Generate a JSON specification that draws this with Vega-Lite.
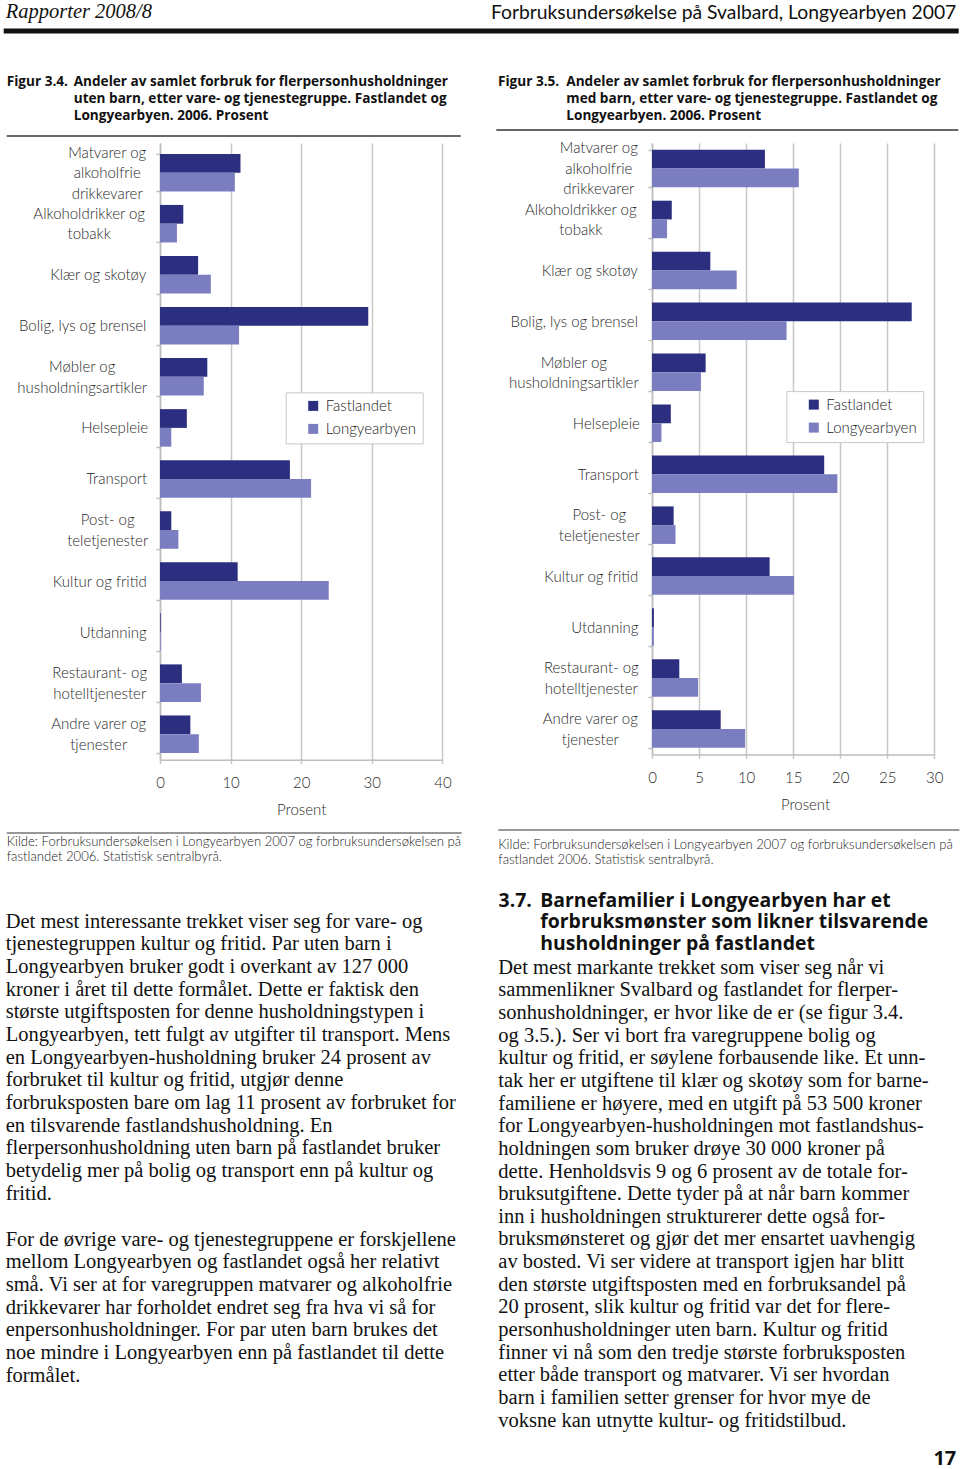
{
  "$schema": "https://vega.github.io/schema/vega-lite/v6.json",
  "background": "white",
  "padding": {"left": 3, "top": 0, "right": 0, "bottom": 0},
  "config": {"view": {"stroke": null}},
  "columns": 2,
  "bounds": "flush",
  "spacing": {"row": 0, "column": 209},
  "resolve": {"scale": {"color": "independent"}, "legend": {"color": "independent"}},
  "datasets": {
    "uten_barn": [
      {"kategori": "Matvarer og alkoholfrie drikkevarer", "serie": "Fastlandet", "andel": 11.4},
      {"kategori": "Matvarer og alkoholfrie drikkevarer", "serie": "Longyearbyen", "andel": 10.6},
      {"kategori": "Alkoholdrikker og tobakk", "serie": "Fastlandet", "andel": 3.3},
      {"kategori": "Alkoholdrikker og tobakk", "serie": "Longyearbyen", "andel": 2.4},
      {"kategori": "Klær og skotøy", "serie": "Fastlandet", "andel": 5.4},
      {"kategori": "Klær og skotøy", "serie": "Longyearbyen", "andel": 7.2},
      {"kategori": "Bolig, lys og brensel", "serie": "Fastlandet", "andel": 29.5},
      {"kategori": "Bolig, lys og brensel", "serie": "Longyearbyen", "andel": 11.2},
      {"kategori": "Møbler og husholdningsartikler", "serie": "Fastlandet", "andel": 6.7},
      {"kategori": "Møbler og husholdningsartikler", "serie": "Longyearbyen", "andel": 6.2},
      {"kategori": "Helsepleie", "serie": "Fastlandet", "andel": 3.8},
      {"kategori": "Helsepleie", "serie": "Longyearbyen", "andel": 1.6},
      {"kategori": "Transport", "serie": "Fastlandet", "andel": 18.4},
      {"kategori": "Transport", "serie": "Longyearbyen", "andel": 21.4},
      {"kategori": "Post- og teletjenester", "serie": "Fastlandet", "andel": 1.6},
      {"kategori": "Post- og teletjenester", "serie": "Longyearbyen", "andel": 2.6},
      {"kategori": "Kultur og fritid", "serie": "Fastlandet", "andel": 11.0},
      {"kategori": "Kultur og fritid", "serie": "Longyearbyen", "andel": 23.9},
      {"kategori": "Utdanning", "serie": "Fastlandet", "andel": 0.1},
      {"kategori": "Utdanning", "serie": "Longyearbyen", "andel": 0.1},
      {"kategori": "Restaurant- og hotelltjenester", "serie": "Fastlandet", "andel": 3.1},
      {"kategori": "Restaurant- og hotelltjenester", "serie": "Longyearbyen", "andel": 5.8},
      {"kategori": "Andre varer og tjenester", "serie": "Fastlandet", "andel": 4.3},
      {"kategori": "Andre varer og tjenester", "serie": "Longyearbyen", "andel": 5.5}
    ],
    "med_barn": [
      {"kategori": "Matvarer og alkoholfrie drikkevarer", "serie": "Fastlandet", "andel": 12.0},
      {"kategori": "Matvarer og alkoholfrie drikkevarer", "serie": "Longyearbyen", "andel": 15.6},
      {"kategori": "Alkoholdrikker og tobakk", "serie": "Fastlandet", "andel": 2.1},
      {"kategori": "Alkoholdrikker og tobakk", "serie": "Longyearbyen", "andel": 1.6},
      {"kategori": "Klær og skotøy", "serie": "Fastlandet", "andel": 6.2},
      {"kategori": "Klær og skotøy", "serie": "Longyearbyen", "andel": 9.0},
      {"kategori": "Bolig, lys og brensel", "serie": "Fastlandet", "andel": 27.6},
      {"kategori": "Bolig, lys og brensel", "serie": "Longyearbyen", "andel": 14.3},
      {"kategori": "Møbler og husholdningsartikler", "serie": "Fastlandet", "andel": 5.7},
      {"kategori": "Møbler og husholdningsartikler", "serie": "Longyearbyen", "andel": 5.2},
      {"kategori": "Helsepleie", "serie": "Fastlandet", "andel": 2.0},
      {"kategori": "Helsepleie", "serie": "Longyearbyen", "andel": 1.0},
      {"kategori": "Transport", "serie": "Fastlandet", "andel": 18.3},
      {"kategori": "Transport", "serie": "Longyearbyen", "andel": 19.7},
      {"kategori": "Post- og teletjenester", "serie": "Fastlandet", "andel": 2.3},
      {"kategori": "Post- og teletjenester", "serie": "Longyearbyen", "andel": 2.5},
      {"kategori": "Kultur og fritid", "serie": "Fastlandet", "andel": 12.5},
      {"kategori": "Kultur og fritid", "serie": "Longyearbyen", "andel": 15.1},
      {"kategori": "Utdanning", "serie": "Fastlandet", "andel": 0.2},
      {"kategori": "Utdanning", "serie": "Longyearbyen", "andel": 0.2},
      {"kategori": "Restaurant- og hotelltjenester", "serie": "Fastlandet", "andel": 2.9},
      {"kategori": "Restaurant- og hotelltjenester", "serie": "Longyearbyen", "andel": 4.9},
      {"kategori": "Andre varer og tjenester", "serie": "Fastlandet", "andel": 7.3},
      {"kategori": "Andre varer og tjenester", "serie": "Longyearbyen", "andel": 9.9}
    ]
  },
  "concat": [
    {
      "width": 282.4,
      "height": 142.6,
      "layer": [
        {
          "data": {"values": [{"tekst": "Rapporter 2008/8"}]},
          "mark": {"type": "text", "font": "Liberation Serif", "fontStyle": "italic", "fontSize": 20.5, "align": "left", "baseline": "alphabetic", "color": "#111"},
          "encoding": {"text": {"field": "tekst", "type": "nominal"}, "x": {"value": -154.3}, "y": {"value": 18}}
        },
        {
          "data": {"values": [{}]},
          "mark": {"type": "rect", "color": "#111"},
          "encoding": {"x": {"value": -156.3}, "x2": {"value": 798.7}, "y": {"value": 28.5}, "y2": {"value": 33.5}}
        },
        {
          "data": {"values": [{"tekst": "Figur 3.4."}]},
          "mark": {"type": "text", "font": "Open Sans", "fontWeight": "bold", "fontSize": 13.6, "align": "left", "baseline": "middle", "color": "#111"},
          "encoding": {"text": {"field": "tekst", "type": "nominal"}, "x": {"value": -153.3}, "y": {"value": 81.7}}
        },
        {
          "data": {"values": [{"tekst": ["Andeler av samlet forbruk for flerpersonhusholdninger", "uten barn, etter vare- og tjenestegruppe. Fastlandet og", "Longyearbyen. 2006. Prosent"]}]},
          "mark": {"type": "text", "font": "Open Sans", "fontWeight": "bold", "fontSize": 13.6, "align": "left", "baseline": "middle", "lineHeight": 17.2, "color": "#111"},
          "encoding": {"text": {"field": "tekst", "type": "nominal"}, "x": {"value": -86.3}, "y": {"value": 81.7}}
        },
        {
          "data": {"values": [{}]},
          "mark": {"type": "rule", "color": "#333", "strokeWidth": 1.3},
          "encoding": {"x": {"value": -153.3}, "x2": {"value": 300.7}, "y": {"value": 136}}
        }
      ]
    },
    {
      "width": 282.3,
      "height": 142.6,
      "layer": [
        {
          "data": {"values": [{"tekst": "Forbruksundersøkelse på Svalbard, Longyearbyen 2007"}]},
          "mark": {"type": "text", "font": "Lato", "fontSize": 19.3, "align": "right", "baseline": "alphabetic", "color": "#111"},
          "encoding": {"text": {"field": "tekst", "type": "nominal"}, "x": {"value": 304.3}, "y": {"value": 19}}
        },
        {
          "data": {"values": [{"tekst": "Figur 3.5."}]},
          "mark": {"type": "text", "font": "Open Sans", "fontWeight": "bold", "fontSize": 13.6, "align": "left", "baseline": "middle", "color": "#111"},
          "encoding": {"text": {"field": "tekst", "type": "nominal"}, "x": {"value": -154}, "y": {"value": 81.7}}
        },
        {
          "data": {"values": [{"tekst": ["Andeler av samlet forbruk for flerpersonhusholdninger", "med barn, etter vare- og tjenestegruppe. Fastlandet og", "Longyearbyen. 2006. Prosent"]}]},
          "mark": {"type": "text", "font": "Open Sans", "fontWeight": "bold", "fontSize": 13.6, "align": "left", "baseline": "middle", "lineHeight": 17.2, "color": "#111"},
          "encoding": {"text": {"field": "tekst", "type": "nominal"}, "x": {"value": -85.7}, "y": {"value": 81.7}}
        },
        {
          "data": {"values": [{}]},
          "mark": {"type": "rule", "color": "#333", "strokeWidth": 1.3},
          "encoding": {"x": {"value": -155.7}, "x2": {"value": 306.3}, "y": {"value": 130}}
        }
      ]
    },
    {
      "width": 282.4,
      "height": 616.7,
      "data": {"name": "uten_barn"},
      "mark": {"type": "bar"},
      "encoding": {
        "y": {
          "field": "kategori", "type": "nominal", "sort": null, "title": null,
          "scale": {"paddingInner": 0.265, "paddingOuter": 0.1725, "align": 0.618},
          "axis": {
            "domainColor": "#bdbdbd", "domainWidth": 1.5, "tickColor": "#bdbdbd", "tickWidth": 1.5, "tickSize": 4, "tickBand": "extent",
            "labelFont": "Lato", "labelFontSize": 15, "labelFontWeight": 300, "labelColor": "#2a2a2a",
            "labelLineHeight": 20.5, "labelAlign": "center", "labelBaseline": "middle", "labelOverlap": false, "labelLimit": 300,
            "labelExpr": "indexof(['Klær og skotøy','Bolig, lys og brensel','Kultur og fritid','Helsepleie','Transport','Utdanning'], datum.label) >= 0 ? datum.label : split(replace(replace(datum.label, ' og ', ' og|'), 'alkoholfrie ', 'alkoholfrie|'), '|')",
            "labelPadding": {"expr": "9.3 + [40,58,49,64.5,65,32.5,30.5,39.5,47.5,34,47.5,48.5][indexof(['Matvarer og alkoholfrie drikkevarer','Alkoholdrikker og tobakk','Klær og skotøy','Bolig, lys og brensel','Møbler og husholdningsartikler','Helsepleie','Transport','Post- og teletjenester','Kultur og fritid','Utdanning','Restaurant- og hotelltjenester','Andre varer og tjenester'], datum.value)]"},
            "labelOffset": {"expr": "[-20.5,-10.25,0,0,-10.25,0,0,-10.25,0,0,-10.25,-10.25][indexof(['Matvarer og alkoholfrie drikkevarer','Alkoholdrikker og tobakk','Klær og skotøy','Bolig, lys og brensel','Møbler og husholdningsartikler','Helsepleie','Transport','Post- og teletjenester','Kultur og fritid','Utdanning','Restaurant- og hotelltjenester','Andre varer og tjenester'], datum.value)]"}
          }
        },
        "yOffset": {"field": "serie", "type": "nominal", "sort": ["Fastlandet", "Longyearbyen"], "scale": {"paddingInner": 0, "paddingOuter": 0}},
        "x": {
          "field": "andel", "type": "quantitative",
          "scale": {"domain": [0, 40], "nice": false},
          "axis": {
            "values": [0, 10, 20, 30, 40], "title": "Prosent", "grid": true, "gridColor": "#c8c8c8", "gridWidth": 1.5,
            "domainColor": "#bdbdbd", "domainWidth": 1.5, "tickColor": "#c8c8c8", "tickWidth": 1.5, "tickSize": 4,
            "labelFont": "Lato", "labelFontSize": 15, "labelFontWeight": 300, "labelColor": "#2a2a2a", "labelPadding": 12, "labelFlush": false,
            "titleFont": "Lato", "titleFontSize": 15, "titleFontWeight": 300, "titleColor": "#2a2a2a", "titlePadding": 12
          }
        },
        "color": {
          "field": "serie", "type": "nominal",
          "scale": {"domain": ["Fastlandet", "Longyearbyen"], "range": ["#2c2e7f", "#7b7dc1"]},
          "legend": {
            "orient": "none", "legendX": 125.7, "legendY": 249.4, "title": null, "fillColor": "white", "strokeColor": "#c8c8c8",
            "padding": 6, "symbolType": "square", "symbolSize": 100, "symbolStrokeWidth": 0, "symbolOffset": 14,
            "labelFont": "Lato", "labelFontSize": 15, "labelFontWeight": 300, "labelColor": "#222", "labelOffset": 5, "rowPadding": 7,
            "labelExpr": "datum.label + '\u00a0\u00a0\u00a0'"
          }
        }
      }
    },
    {
      "width": 282.3,
      "height": 611.4,
      "data": {"name": "med_barn"},
      "mark": {"type": "bar"},
      "encoding": {
        "y": {
          "field": "kategori", "type": "nominal", "sort": null, "title": null,
          "scale": {"paddingInner": 0.265, "paddingOuter": 0.1325},
          "axis": {
            "domainColor": "#bdbdbd", "domainWidth": 1.5, "tickColor": "#bdbdbd", "tickWidth": 1.5, "tickSize": 4, "tickBand": "extent",
            "labelFont": "Lato", "labelFontSize": 15, "labelFontWeight": 300, "labelColor": "#2a2a2a",
            "labelLineHeight": 20.5, "labelAlign": "center", "labelBaseline": "middle", "labelOverlap": false, "labelLimit": 300,
            "labelExpr": "indexof(['Klær og skotøy','Bolig, lys og brensel','Kultur og fritid','Helsepleie','Transport','Utdanning'], datum.label) >= 0 ? datum.label : split(replace(replace(datum.label, ' og ', ' og|'), 'alkoholfrie ', 'alkoholfrie|'), '|')",
            "labelPadding": {"expr": "9.7 + [40,58,49,64.5,65,32.5,30.5,39.5,47.5,34,47.5,48.5][indexof(['Matvarer og alkoholfrie drikkevarer','Alkoholdrikker og tobakk','Klær og skotøy','Bolig, lys og brensel','Møbler og husholdningsartikler','Helsepleie','Transport','Post- og teletjenester','Kultur og fritid','Utdanning','Restaurant- og hotelltjenester','Andre varer og tjenester'], datum.value)]"},
            "labelOffset": {"expr": "[-20.5,-10.25,0,0,-10.25,0,0,-10.25,0,0,-10.25,-10.25][indexof(['Matvarer og alkoholfrie drikkevarer','Alkoholdrikker og tobakk','Klær og skotøy','Bolig, lys og brensel','Møbler og husholdningsartikler','Helsepleie','Transport','Post- og teletjenester','Kultur og fritid','Utdanning','Restaurant- og hotelltjenester','Andre varer og tjenester'], datum.value)]"}
          }
        },
        "yOffset": {"field": "serie", "type": "nominal", "sort": ["Fastlandet", "Longyearbyen"], "scale": {"paddingInner": 0, "paddingOuter": 0}},
        "x": {
          "field": "andel", "type": "quantitative",
          "scale": {"domain": [0, 30], "nice": false},
          "axis": {
            "values": [0, 5, 10, 15, 20, 25, 30], "title": "Prosent", "grid": true, "gridColor": "#c8c8c8", "gridWidth": 1.5,
            "domainColor": "#bdbdbd", "domainWidth": 1.5, "tickColor": "#c8c8c8", "tickWidth": 1.5, "tickSize": 4,
            "labelFont": "Lato", "labelFontSize": 15, "labelFontWeight": 300, "labelColor": "#2a2a2a", "labelPadding": 12, "labelFlush": false,
            "titleFont": "Lato", "titleFontSize": 15, "titleFontWeight": 300, "titleColor": "#2a2a2a", "titlePadding": 12, "titleX": 153
          }
        },
        "color": {
          "field": "serie", "type": "nominal",
          "scale": {"domain": ["Fastlandet", "Longyearbyen"], "range": ["#2c2e7f", "#7b7dc1"]},
          "legend": {
            "orient": "none", "legendX": 134.3, "legendY": 248.1, "title": null, "fillColor": "white", "strokeColor": "#c8c8c8",
            "padding": 6, "symbolType": "square", "symbolSize": 100, "symbolStrokeWidth": 0, "symbolOffset": 14,
            "labelFont": "Lato", "labelFontSize": 15, "labelFontWeight": 300, "labelColor": "#222", "labelOffset": 5, "rowPadding": 7,
            "labelExpr": "datum.label + '\u00a0\u00a0\u00a0'"
          }
        }
      }
    },
    {
      "width": 282.4,
      "height": 709.7,
      "layer": [
        {
          "data": {"values": [{}]},
          "mark": {"type": "rule", "color": "#333", "strokeWidth": 1.2},
          "encoding": {"x": {"value": -153.3}, "x2": {"value": 301.7}, "y": {"value": 73}}
        },
        {
          "data": {"values": [{"tekst": ["Kilde: Forbruksundersøkelsen i Longyearbyen 2007 og forbruksundersøkelsen på", "fastlandet 2006. Statistisk sentralbyrå."]}]},
          "mark": {"type": "text", "font": "Lato", "fontSize": 13.1, "fontWeight": 300, "align": "left", "baseline": "middle", "lineHeight": 15, "color": "#222"},
          "encoding": {"text": {"field": "tekst", "type": "nominal"}, "x": {"value": -153.3}, "y": {"value": 81.7}}
        },
        {
          "data": {"values": [{"tekst": [
            "Det mest interessante trekket viser seg for vare- og",
            "tjenestegruppen kultur og fritid. Par uten barn i",
            "Longyearbyen bruker godt i overkant av 127 000",
            "kroner i året til dette formålet. Dette er faktisk den",
            "største utgiftsposten for denne husholdningstypen i",
            "Longyearbyen, tett fulgt av utgifter til transport. Mens",
            "en Longyearbyen-husholdning bruker 24 prosent av",
            "forbruket til kultur og fritid, utgjør denne",
            "forbruksposten bare om lag 11 prosent av forbruket for",
            "en tilsvarende fastlandshusholdning. En",
            "flerpersonhusholdning uten barn på fastlandet bruker",
            "betydelig mer på bolig og transport enn på kultur og",
            "fritid."
          ]}]},
          "mark": {"type": "text", "font": "Liberation Serif", "fontSize": 20.5, "align": "left", "baseline": "middle", "lineHeight": 22.67, "color": "#111"},
          "encoding": {"text": {"field": "tekst", "type": "nominal"}, "x": {"value": -154.3}, "y": {"value": 161.7}}
        },
        {
          "data": {"values": [{"tekst": [
            "For de øvrige vare- og tjenestegruppene er forskjellene",
            "mellom Longyearbyen og fastlandet også her relativt",
            "små. Vi ser at for varegruppen matvarer og alkoholfrie",
            "drikkevarer har forholdet endret seg fra hva vi så for",
            "enpersonhusholdninger. For par uten barn brukes det",
            "noe mindre i Longyearbyen enn på fastlandet til dette",
            "formålet."
          ]}]},
          "mark": {"type": "text", "font": "Liberation Serif", "fontSize": 20.5, "align": "left", "baseline": "middle", "lineHeight": 22.67, "color": "#111"},
          "encoding": {"text": {"field": "tekst", "type": "nominal"}, "x": {"value": -154.3}, "y": {"value": 479.7}}
        }
      ]
    },
    {
      "width": 282.3,
      "height": 709.7,
      "layer": [
        {
          "data": {"values": [{}]},
          "mark": {"type": "rule", "color": "#333", "strokeWidth": 1.2},
          "encoding": {"x": {"value": -153.7}, "x2": {"value": 307.3}, "y": {"value": 70}}
        },
        {
          "data": {"values": [{"tekst": ["Kilde: Forbruksundersøkelsen i Longyearbyen 2007 og forbruksundersøkelsen på", "fastlandet 2006. Statistisk sentralbyrå."]}]},
          "mark": {"type": "text", "font": "Lato", "fontSize": 13.1, "fontWeight": 300, "align": "left", "baseline": "middle", "lineHeight": 15, "color": "#222"},
          "encoding": {"text": {"field": "tekst", "type": "nominal"}, "x": {"value": -153.7}, "y": {"value": 84.7}}
        },
        {
          "data": {"values": [{"tekst": "3.7."}]},
          "mark": {"type": "text", "font": "Open Sans", "fontWeight": "bold", "fontSize": 19.4, "align": "left", "baseline": "middle", "color": "#111"},
          "encoding": {"text": {"field": "tekst", "type": "nominal"}, "x": {"value": -153.4}, "y": {"value": 140.7}}
        },
        {
          "data": {"values": [{"tekst": ["Barnefamilier i Longyearbyen har et", "forbruksmønster som likner tilsvarende", "husholdninger på fastlandet"]}]},
          "mark": {"type": "text", "font": "Open Sans", "fontWeight": "bold", "fontSize": 19.4, "align": "left", "baseline": "middle", "lineHeight": 21.7, "color": "#111"},
          "encoding": {"text": {"field": "tekst", "type": "nominal"}, "x": {"value": -111.7}, "y": {"value": 140.7}}
        },
        {
          "data": {"values": [{"tekst": [
            "Det mest markante trekket som viser seg når vi",
            "sammenlikner Svalbard og fastlandet for flerper-",
            "sonhusholdninger, er hvor like de er (se figur 3.4.",
            "og 3.5.). Ser vi bort fra varegruppene bolig og",
            "kultur og fritid, er søylene forbausende like. Et unn-",
            "tak her er utgiftene til klær og skotøy som for barne-",
            "familiene er høyere, med en utgift på 53 500 kroner",
            "for Longyearbyen-husholdningen mot fastlandshus-",
            "holdningen som bruker drøye 30 000 kroner på",
            "dette. Henholdsvis 9 og 6 prosent av de totale for-",
            "bruksutgiftene. Dette tyder på at når barn kommer",
            "inn i husholdningen strukturerer dette også for-",
            "bruksmønsteret og gjør det mer ensartet uavhengig",
            "av bosted. Vi ser videre at transport igjen har blitt",
            "den største utgiftsposten med en forbruksandel på",
            "20 prosent, slik kultur og fritid var det for flere-",
            "personhusholdninger uten barn. Kultur og fritid",
            "finner vi nå som den tredje største forbruksposten",
            "etter både transport og matvarer. Vi ser hvordan",
            "barn i familien setter grenser for hvor mye de",
            "voksne kan utnytte kultur- og fritidstilbud."
          ]}]},
          "mark": {"type": "text", "font": "Liberation Serif", "fontSize": 20.5, "align": "left", "baseline": "middle", "lineHeight": 22.65, "color": "#111"},
          "encoding": {"text": {"field": "tekst", "type": "nominal"}, "x": {"value": -153.7}, "y": {"value": 207.7}}
        },
        {
          "data": {"values": [{"tekst": "17"}]},
          "mark": {"type": "text", "font": "Open Sans", "fontWeight": "bold", "fontSize": 20, "align": "right", "baseline": "middle", "color": "#111"},
          "encoding": {"text": {"field": "tekst", "type": "nominal"}, "x": {"value": 304.3}, "y": {"value": 698.7}}
        }
      ]
    }
  ]
}
